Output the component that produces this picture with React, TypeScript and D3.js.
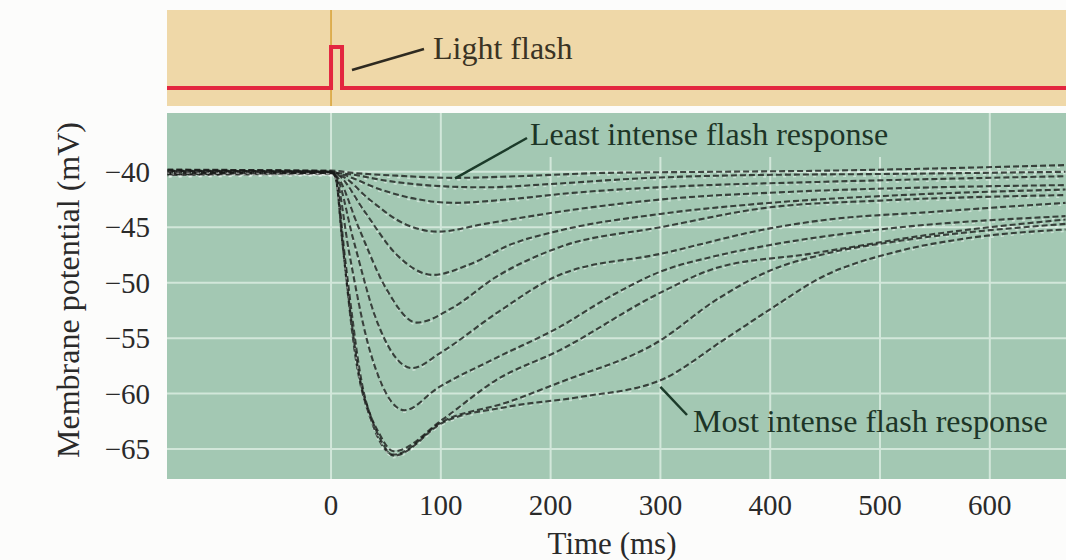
import * as d3 from "d3";

// time (ms) / membrane potential (mV) pairs, dimmest flash first
const trace1: [number, number][] = [[-149, -39.85], [0, -39.9], [20, -40.1], [60, -40.35], [112, -40.55], [170, -40.4], [250, -40.1], [350, -40], [450, -39.9], [550, -39.7], [669, -39.4]];
const trace2: [number, number][] = [[-149, -40.15], [0, -40.1], [15, -40.2], [50, -40.8], [100, -41.3], [140, -41.4], [200, -41.1], [280, -40.6], [380, -40.3], [500, -40.2], [669, -40]];
const trace3: [number, number][] = [[-149, -39.95], [0, -40], [12, -40.3], [45, -41.6], [80, -42.5], [112, -42.8], [160, -42.5], [220, -41.9], [320, -41.3], [450, -40.9], [669, -40.4]];
const trace4: [number, number][] = [[-149, -40.25], [0, -40.15], [10, -40.4], [35, -42.5], [65, -44.6], [97, -45.4], [140, -44.7], [208, -43.6], [300, -42.5], [420, -41.8], [550, -41.4], [669, -41.2]];
const trace5: [number, number][] = [[-149, -39.8], [0, -39.95], [8, -40.4], [30, -43.5], [60, -47.5], [93, -49.3], [125, -48.4], [165, -46.5], [208, -45.3], [300, -43.8], [400, -42.8], [520, -42.1], [669, -41.6]];
const trace6: [number, number][] = [[-149, -40.1], [0, -40.05], [6, -40.5], [25, -45], [50, -50.5], [78, -53.6], [110, -52.3], [150, -49.5], [208, -46.8], [300, -45], [400, -43.2], [500, -42.6], [669, -42.1]];
const trace7: [number, number][] = [[-149, -40.3], [0, -40.2], [5, -40.5], [20, -46], [40, -53], [74, -57.7], [100, -56.3], [150, -52.8], [208, -49.3], [300, -47.4], [400, -45.1], [445, -44.4], [550, -43.6], [669, -42.8]];
const trace8: [number, number][] = [[-149, -39.9], [0, -40], [5, -40.6], [16, -47], [35, -56], [67, -61.5], [97, -59.5], [150, -56.8], [208, -54], [255, -51.2], [300, -49], [350, -47.6], [400, -46.6], [500, -45.2], [669, -44]];
const trace9: [number, number][] = [[-149, -40.05], [0, -40.1], [4, -40.5], [13, -48], [28, -59], [45, -63.8], [57, -65.2], [102, -62.3], [150, -58.8], [208, -56.1], [300, -50.9], [350, -48.7], [436, -47.4], [550, -45.6], [669, -44.3]];
const trace10: [number, number][] = [[-149, -40.2], [0, -40.1], [4, -40.5], [11, -47], [22, -56.5], [38, -62.8], [57, -65.5], [102, -62.5], [160, -60.8], [208, -59], [300, -55.2], [350, -51.6], [400, -48.9], [450, -47.4], [520, -46.2], [669, -44.7]];
const trace11: [number, number][] = [[-149, -39.95], [0, -40], [4, -40.4], [10, -46], [18, -53], [26, -58.5], [36, -62], [46, -64.3], [57, -65.6], [102, -62.6], [160, -61.2], [227, -60.3], [300, -58.8], [357, -55.2], [403, -52.2], [445, -49.6], [515, -47.2], [579, -46], [669, -45.2]];

const traces = [trace1, trace2, trace3, trace4, trace5, trace6, trace7, trace8, trace9, trace10, trace11];

// stimulus trace (light on = 1)
const stimTimes = [-149.4, 0, 10, 669.4];
const stimLevels = [0, 1, 0, 0];

const xTicks = [0, 100, 200, 300, 400, 500, 600];
const yTicks = [-40, -45, -50, -55, -60, -65];

// where the callout lines touch the traces
const leastAnchor: [number, number] = [113, -40.6];
const mostAnchor: [number, number] = [300, -59.4];

const FONT = "'Liberation Serif', 'Times New Roman', serif";

export default function App() {
  const width = 1066;
  const height = 560;
  const left = 167;
  const right = 1066;

  const x = d3.scaleLinear().domain([-149.4, 669.4]).range([left, right]);
  const y = d3.scaleLinear().domain([-67.7, -34.7]).range([479, 113]);
  const yStim = d3.scaleLinear().domain([0, 1]).range([88, 47]);

  const traceLine = d3
    .line<[number, number]>()
    .x((d) => x(d[0]))
    .y((d) => y(d[1]))
    .curve(d3.curveMonotoneX);

  const stimLine = d3
    .line<number>()
    .x((_, i) => x(stimTimes[i]))
    .y((d) => yStim(d))
    .curve(d3.curveStepAfter);

  const fmt = d3.format("d");

  const [lx, ly] = [x(leastAnchor[0]), y(leastAnchor[1])];
  const [mx, my] = [x(mostAnchor[0]), y(mostAnchor[1])];

  return (
    <svg
      width={width}
      height={height}
      style={{ position: "absolute", left: 0, top: 0, background: "#fcfcfb" }}
    >
      {/* stimulus panel */}
      <rect x={left} y={10} width={right - left} height={96} fill="#efd8a8" />
      <line x1={x(0)} x2={x(0)} y1={10} y2={106} stroke="#d8a43c" strokeWidth={1.6} />
      <path d={stimLine(stimLevels) || ""} fill="none" stroke="#e3263f" strokeWidth={4} />
      <line x1={352} y1={70} x2={424} y2={49} stroke="#2e2a20" strokeWidth={2.5} />
      <text x={433} y={59} fontFamily={FONT} fontSize={32} fill="#3a3324">
        Light flash
      </text>

      {/* recording panel */}
      <rect x={left} y={113} width={right - left} height={366} fill="#a3c8b3" />
      {yTicks.map((t) => (
        <line key={"gy" + t} x1={left} x2={right} y1={y(t)} y2={y(t)} stroke="#d2e7da" strokeWidth={2} />
      ))}
      {xTicks.map((t) => (
        <line key={"gx" + t} x1={x(t)} x2={x(t)} y1={113} y2={479} stroke="#d2e7da" strokeWidth={2} />
      ))}

      {/* label backing hides the grid behind the top callout */}
      <rect x={522} y={113} width={390} height={44} fill="#a3c8b3" />

      {traces.map((tr, i) => (
        <g key={"tr" + i}>
          <path
            d={traceLine(tr) || ""}
            fill="none"
            stroke="#ffffff"
            strokeOpacity={0.45}
            strokeWidth={1.6}
            strokeDasharray="3 7"
            strokeDashoffset={i * 3.1}
            transform="translate(0,2)"
          />
          <path
            d={traceLine(tr) || ""}
            fill="none"
            stroke="#181a18"
            strokeOpacity={0.78}
            strokeWidth={2.1}
            strokeDasharray="6 3"
            strokeDashoffset={i * 2.3}
          />
        </g>
      ))}

      {/* callouts */}
      <line x1={lx} y1={ly} x2={527} y2={138} stroke="#1b3a29" strokeWidth={2.5} />
      <text x={530} y={145} fontFamily={FONT} fontSize={32} fill="#1d3527">
        Least intense flash response
      </text>
      <line x1={mx} y1={my} x2={687} y2={415} stroke="#1b3a29" strokeWidth={2.5} />
      <text x={693} y={432} fontFamily={FONT} fontSize={32} fill="#1d3527">
        Most intense flash response
      </text>

      {/* axes */}
      {yTicks.map((t) => (
        <text
          key={"ty" + t}
          x={150}
          y={y(t)}
          textAnchor="end"
          dominantBaseline="central"
          fontFamily={FONT}
          fontSize={29}
          fill="#2a2a2a"
        >
          {fmt(t)}
        </text>
      ))}
      {xTicks.map((t) => (
        <text
          key={"tx" + t}
          x={x(t)}
          y={505}
          textAnchor="middle"
          dominantBaseline="central"
          fontFamily={FONT}
          fontSize={29}
          fill="#2a2a2a"
        >
          {fmt(t)}
        </text>
      ))}
      <text
        x={612}
        y={543}
        textAnchor="middle"
        dominantBaseline="central"
        fontFamily={FONT}
        fontSize={31}
        fill="#2a2a2a"
      >
        Time (ms)
      </text>
      <text
        transform="translate(79,290) rotate(-90)"
        textAnchor="middle"
        fontFamily={FONT}
        fontSize={32}
        fill="#2a2a2a"
      >
        Membrane potential (mV)
      </text>
    </svg>
  );
}
